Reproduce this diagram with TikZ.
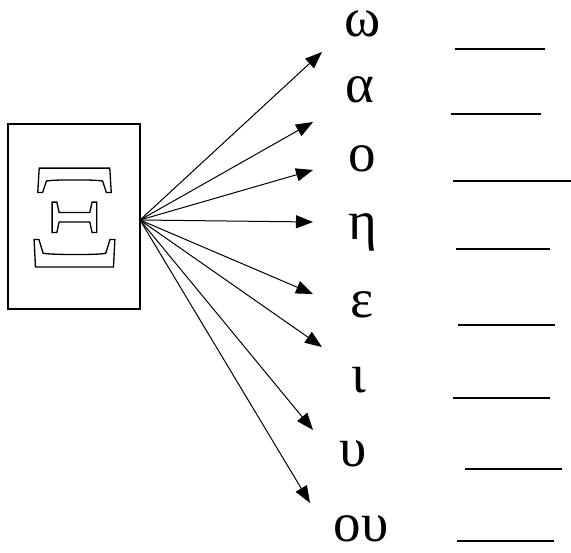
\documentclass[tikz,border=0pt]{standalone}
\usepackage{fontspec}
\setmainfont{Liberation Serif}
\usetikzlibrary{arrows.meta}
\newcommand{\hollowtext}[1]{\special{pdf:literal direct 1 Tr 1.3 w}#1\special{pdf:literal direct 0 Tr}}
\begin{document}
\begin{tikzpicture}[x=1pt,y=-1pt,
  letter/.style={anchor=base,inner sep=0pt,text height=0.5em,text depth=0.2em,font=\fontsize{55}{55}\selectfont},
  bigxi/.style={anchor=base,inner sep=0pt,font=\fontsize{151}{151}\selectfont},
  frame/.style={draw,line width=1.5pt},
  ray/.style={line width=1pt,-{Triangle[length=17pt,width=13pt]}},
  blank/.style={line width=1.6pt}]
\useasboundingbox (0,0) rectangle (571,553);
\draw[frame] (8,124) rectangle (140,309);
\node[bigxi] (xi) at (74.5,267) {\hollowtext{Ξ}};
\coordinate (o) at (140,220);
\node[letter] (l1) at (363,37) {ω};
\node[letter] (l2) at (360,103) {α};
\node[letter] (l3) at (362,172) {ο};
\node[letter] (l4) at (363,240) {η};
\node[letter] (l5) at (362,318) {ε};
\node[letter] (l6) at (359,393) {ι};
\node[letter] (l7) at (353,467) {υ};
\node[letter] (l8) at (361,542) {ου};
\coordinate (t1) at (322,52);
\coordinate (t2) at (313,122);
\coordinate (t3) at (313,170);
\coordinate (t4) at (313,222);
\coordinate (t5) at (313,294);
\coordinate (t6) at (322,347);
\coordinate (t7) at (313,430);
\coordinate (t8) at (310,503);
\foreach \i in {1,...,8} \draw[ray] (o) -- (t\i);
\draw[blank] (455,49) -- (545,49);
\draw[blank] (451,114) -- (541,114);
\draw[blank] (453,181) -- (571,181);
\draw[blank] (456,249) -- (550,249);
\draw[blank] (458,325) -- (555,325);
\draw[blank] (453,398) -- (550,398);
\draw[blank] (465,469) -- (562,469);
\draw[blank] (457,541) -- (554,541);
\end{tikzpicture}
\end{document}
